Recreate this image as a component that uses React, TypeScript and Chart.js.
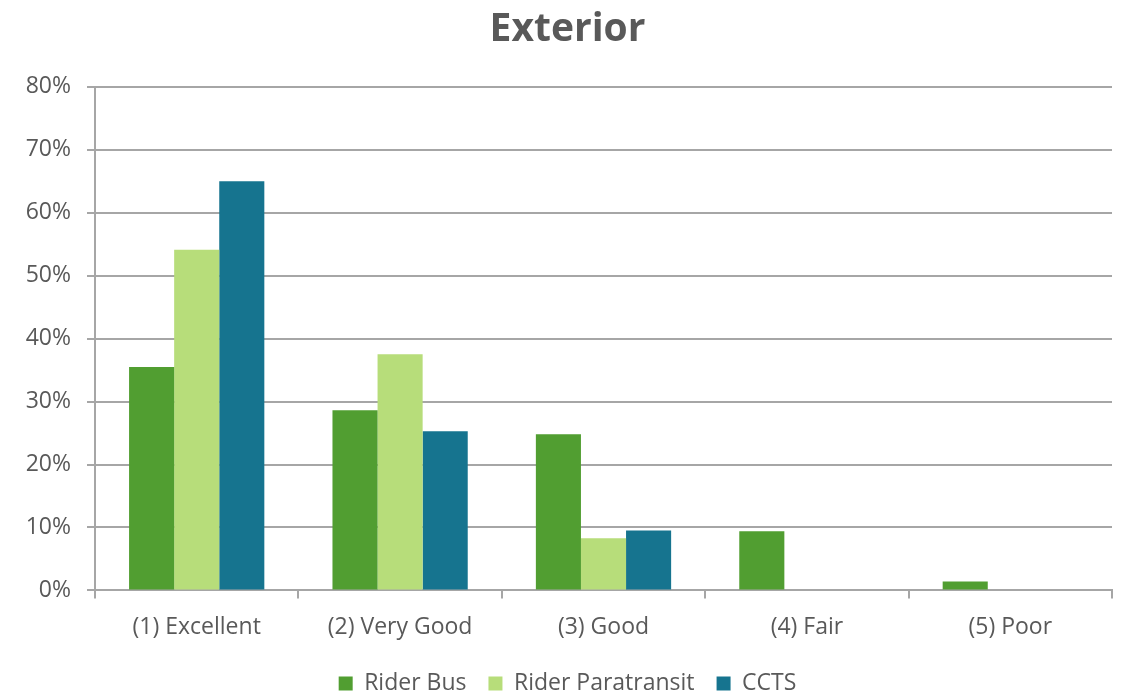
import React, { useEffect, useRef } from "react";
import { Chart, registerables } from "chart.js";

Chart.register(...registerables);

const categories = ["(1) Excellent", "(2) Very Good", "(3) Good", "(4) Fair", "(5) Poor"];
const riderBus = [35.5, 28.6, 24.8, 9.4, 1.4];
const riderParatransit = [54.1, 37.5, 8.3, 0, 0];
const ccts = [65.0, 25.3, 9.5, 0, 0];
const yTicks = [0, 10, 20, 30, 40, 50, 60, 70, 80];

const TEXT = "#595959";
const GRID = "#A6A6A6";
const FONT = "Open Sans";

export default function App() {
  const ref = useRef<HTMLCanvasElement | null>(null);
  useEffect(() => {
    document.body.style.margin = "0";
    if (!ref.current) return;
    const chart = new Chart(ref.current, {
      type: "bar",
      data: {
        labels: categories,
        datasets: [
          { label: "Rider Bus", data: riderBus, backgroundColor: "#519E31" },
          { label: "Rider Paratransit", data: riderParatransit, backgroundColor: "#B7DD7A" },
          { label: "CCTS", data: ccts, backgroundColor: "#16748F" },
        ],
      },
      options: {
        animation: false,
        responsive: true,
        maintainAspectRatio: false,
        layout: { padding: { left: 23, right: 13, top: 0, bottom: -13 } },
        datasets: { bar: { categoryPercentage: 0.665, barPercentage: 1.0 } },
        plugins: {
          title: {
            display: true,
            text: "Exterior",
            color: TEXT,
            font: { family: FONT, size: 39, weight: "bold" },
            padding: { top: 6, bottom: 34 },
          },
          legend: {
            position: "bottom",
            labels: {
              color: TEXT,
              font: { family: FONT, size: 23 },
              boxWidth: 14,
              boxHeight: 14,
              padding: 22,
            },
          },
          tooltip: { enabled: false },
        },
        scales: {
          x: {
            grid: {
              display: true,
              drawOnChartArea: false,
              drawTicks: true,
              tickLength: 8,
              lineWidth: 2,
              color: GRID,
              offset: true,
            },
            border: { color: GRID, width: 2 },
            ticks: { color: TEXT, font: { family: FONT, size: 23 }, padding: 15 },
            afterFit: (axis: any) => {
              axis.height -= 6;
            },
          },
          y: {
            min: 0,
            max: 80,
            afterBuildTicks: (axis: any) => {
              axis.ticks = yTicks.map((v) => ({ value: v }));
            },
            afterFit: (axis: any) => {
              axis.width = 72;
            },
            grid: { color: GRID, lineWidth: 2, tickLength: 8 },
            border: { color: GRID, width: 2 },
            ticks: {
              color: TEXT,
              font: { family: FONT, size: 23 },
              padding: 16,
              callback: (v: any) => v + "%",
            },
          },
        },
      },
    });
    return () => chart.destroy();
  }, []);
  return (
    <div style={{ width: 1125, height: 692, position: "relative" }}>
      <canvas ref={ref} />
    </div>
  );
}
